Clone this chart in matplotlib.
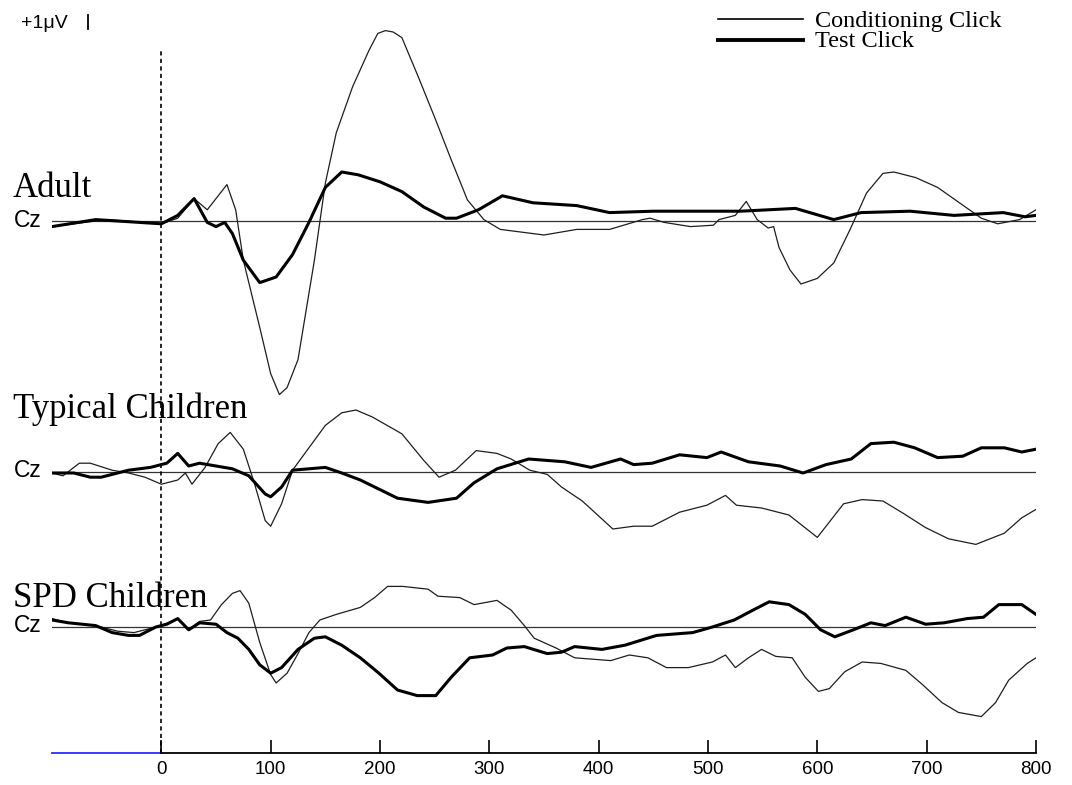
import numpy as np
import matplotlib
matplotlib.use('Agg')
import matplotlib.pyplot as plt
from matplotlib.lines import Line2D

# ERP waveforms at Cz (time in ms, amplitude in microvolts)
adult_cond_t = [-100, -50, 0, 15, 30, 42, 60, 68, 75, 90, 100, 108, 115, 125, 140, 150, 160, 175, 190, 198, 205, 212, 220, 235,
                250, 265, 280, 295, 310, 340, 350, 380, 410, 440, 447, 460, 484, 505, 510, 525, 535, 545, 555, 560,
                565, 575, 585, 600, 615, 630, 645, 660, 670, 690, 710, 730, 750, 765, 785, 800]
adult_cond_v = [-0.4, 0.1, -0.2, 0.2, 1.6, 0.8, 2.6, 0.8, -2.8, -7.6, -10.9, -12.4, -11.9, -9.9, -2.8, 2.7, 6.3, 9.6, 12.2, 13.4, 13.6, 13.5, 13.1, 10.3,
                7.4, 4.4, 1.5, 0.1, -0.6, -0.9, -1.0, -0.6, -0.6, 0.1, 0.2, -0.1, -0.4, -0.3, 0.1, 0.4, 1.4, 0.1, -0.5, -0.4,
                -1.9, -3.5, -4.5, -4.1, -3.0, -0.6, 2.0, 3.4, 3.5, 3.1, 2.4, 1.3, 0.2, -0.2, 0.1, 0.8]
adult_test_t = [-100, -60, -20, 0, 15, 30, 42, 50, 58, 65, 75, 90, 105, 120, 135, 150, 165, 180, 200, 220,
                240, 260, 270, 290, 312, 340, 380, 410, 450, 500, 530, 580, 615, 640, 685, 725, 770, 790, 800]
adult_test_v = [-0.4, 0.1, -0.1, -0.2, 0.4, 1.6, -0.1, -0.4, -0.1, -0.9, -2.8, -4.4, -4.0, -2.4, -0.1, 2.4, 3.5, 3.3, 2.8, 2.1,
                1.0, 0.2, 0.2, 0.8, 1.8, 1.3, 1.1, 0.6, 0.7, 0.7, 0.7, 0.9, 0.1, 0.6, 0.7, 0.4, 0.6, 0.3, 0.4]

typ_cond_t = [-100, -90, -75, -65, -45, -30, -15, 0, 15, 22, 28, 40, 52, 63, 75, 85, 95, 100, 110, 120,
              135, 150, 165, 178, 193, 220, 240, 254, 269, 288, 307, 320, 337, 353, 366, 385, 413, 432, 449, 474,
              499, 516, 526, 549, 574, 600, 624, 641, 660, 679, 699, 720, 745, 771, 787, 800]
typ_cond_v = [-0.1, -0.3, 0.6, 0.6, 0.1, -0.1, -0.4, -0.9, -0.6, -0.1, -0.9, 0.3, 2.0, 2.8, 1.6, -0.8, -3.5, -3.9, -2.3, 0.1,
              1.7, 3.3, 4.2, 4.4, 3.9, 2.7, 0.8, -0.4, 0.1, 1.5, 1.3, 0.9, 0.1, -0.2, -1.1, -2.1, -4.1, -3.9, -3.9, -2.9,
              -2.4, -1.7, -2.4, -2.6, -3.1, -4.7, -2.3, -2.0, -2.1, -3.0, -4.0, -4.8, -5.2, -4.4, -3.3, -2.7]
typ_test_t = [-100, -80, -65, -55, -30, -10, 5, 15, 25, 35, 50, 65, 80, 95, 100, 110, 120, 135, 150, 165,
              182, 216, 244, 270, 286, 307, 336, 369, 393, 420, 432, 449, 474, 499, 512, 537, 566, 587, 608, 631,
              649, 670, 689, 710, 733, 750, 771, 787, 800]
typ_test_v = [-0.1, -0.1, -0.4, -0.4, 0.1, 0.3, 0.6, 1.3, 0.4, 0.6, 0.4, 0.2, -0.3, -1.6, -1.8, -1.1, 0.1, 0.2, 0.3, -0.1,
              -0.6, -1.9, -2.2, -1.9, -0.8, 0.2, 0.9, 0.7, 0.3, 0.9, 0.5, 0.6, 1.2, 1.0, 1.4, 0.7, 0.4, -0.1, 0.5, 0.9,
              2.0, 2.1, 1.7, 1.0, 1.1, 1.7, 1.7, 1.4, 1.6]

spd_cond_t = [-100, -85, -70, -55, -40, -25, -10, 0, 15, 25, 35, 45, 55, 65, 72, 80, 90, 100, 105, 115,
              125, 135, 145, 160, 182, 195, 207, 221, 244, 253, 273, 286, 307, 320, 332, 341, 361, 378, 411, 428,
              445, 462, 482, 504, 516, 525, 537, 549, 562, 577, 589, 601, 611, 625, 641, 658, 681, 696, 714, 729,
              750, 763, 775, 792, 800]
spd_cond_v = [0.6, 0.3, 0.2, 0.0, -0.3, -0.4, -0.1, 0.1, 0.6, -0.2, 0.4, 0.5, 1.6, 2.4, 2.6, 1.7, -1.1, -3.4, -4.0, -3.3,
              -1.9, -0.4, 0.5, 0.9, 1.4, 2.1, 2.9, 2.9, 2.7, 2.2, 2.1, 1.6, 1.9, 1.2, 0.1, -0.8, -1.5, -2.2, -2.4, -2.0,
              -2.2, -2.9, -2.9, -2.5, -2.0, -2.9, -2.2, -1.6, -2.1, -2.2, -3.6, -4.6, -4.4, -3.2, -2.5, -2.6, -3.1, -4.1, -5.4, -6.1,
              -6.4, -5.4, -3.8, -2.6, -2.2]
spd_test_t = [-100, -85, -60, -45, -30, -20, -5, 5, 15, 25, 35, 50, 60, 70, 80, 90, 100, 110, 125, 140,
              150, 165, 182, 199, 216, 234, 251, 265, 282, 303, 316, 332, 353, 366, 378, 403, 424, 453, 486, 504,
              524, 541, 556, 574, 589, 603, 616, 633, 649, 662, 681, 699, 716, 737, 752, 766, 787, 800]
spd_test_v = [0.5, 0.3, 0.1, -0.4, -0.6, -0.6, 0.0, 0.2, 0.6, -0.2, 0.3, 0.2, -0.4, -0.8, -1.6, -2.7, -3.3, -2.9, -1.6, -0.8,
              -0.7, -1.3, -2.2, -3.3, -4.5, -4.9, -4.9, -3.6, -2.2, -2.0, -1.5, -1.4, -1.9, -1.8, -1.4, -1.6, -1.3, -0.6, -0.4, 0.0,
              0.5, 1.2, 1.8, 1.6, 0.9, -0.2, -0.7, -0.2, 0.3, 0.1, 0.7, 0.2, 0.3, 0.6, 0.7, 1.6, 1.6, 0.9]

group_names = ['Adult', 'Typical Children', 'SPD Children']
group_offsets = [38.0, 20.1, 9.0]   # vertical offset of each Cz baseline (uV)
xticks = [0, 100, 200, 300, 400, 500, 600, 700, 800]

W, H = 1072, 785
def fx(px):
    return px / W
def fy(py):
    return 1 - py / H

serif = 'Liberation Serif'
sans = 'Liberation Sans'

fig = plt.figure(figsize=(W / 100, H / 100), dpi=100)
ax = fig.add_axes([fx(52), fy(753), fx(1036) - fx(52), fy(0) - fy(753)])
ax.set_xlim(-100, 800)
ax.set_ylim(0, 753 / 14)

groups = [
    (adult_cond_t, adult_cond_v, adult_test_t, adult_test_v),
    (typ_cond_t, typ_cond_v, typ_test_t, typ_test_v),
    (spd_cond_t, spd_cond_v, spd_test_t, spd_test_v),
]
for off, (tc, vc, tt, vt) in zip(group_offsets, groups):
    ax.axhline(off, color='#333333', lw=0.9, zorder=1)
    ax.plot(tc, off + np.array(vc), color='#1e1e1e', lw=0.9, zorder=2)
    ax.plot(tt, off + np.array(vt), color='black', lw=2.2, zorder=3)

# stimulus onset
ax.plot([0, 0], [0, (753 - 50) / 14], color='black', lw=1.2, ls=(0, (2.5, 2)), zorder=1)

# bottom time axis (blue pre-stimulus part)
ax.plot([-100, 0], [0, 0], color='#2b2bff', lw=1.3, clip_on=False)
ax.plot([0, 800], [0, 0], color='black', lw=1.3, clip_on=False)
for s in ax.spines.values():
    s.set_visible(False)
ax.set_yticks([])
ax.set_xticks(xticks)
ax.set_xticklabels([str(t) for t in xticks], fontfamily=sans)
ax.tick_params(axis='x', direction='in', length=9.5, width=1.2, labelsize=13.5, pad=6)

# group labels and Cz labels
label_base = [197, 418, 607]
cz_base = [227, 477, 632]
for name, yb, yc in zip(group_names, label_base, cz_base):
    fig.text(fx(13), fy(yb), name, fontsize=25, fontfamily=serif, va='baseline', ha='left')
    fig.text(fx(14), fy(yc), 'Cz', fontsize=16.5, fontfamily=sans, va='baseline', ha='left')

# amplitude scale
fig.text(fx(21), fy(28), '+1\u03bcV', fontsize=14, fontfamily=sans, va='baseline', ha='left')
fig.add_artist(Line2D([fx(88), fx(88)], [fy(15), fy(29)], color='black', lw=1.3))

# legend
fig.add_artist(Line2D([fx(718), fx(803)], [fy(19), fy(19)], color='black', lw=1.2))
fig.add_artist(Line2D([fx(718), fx(803)], [fy(40), fy(40)], color='black', lw=2.8))
fig.text(fx(815), fy(27), 'Conditioning Click', fontsize=17.5, fontfamily=serif, va='baseline', ha='left')
fig.text(fx(815), fy(47), 'Test Click', fontsize=17.5, fontfamily=serif, va='baseline', ha='left')

fig.savefig('out.png', dpi=100)
